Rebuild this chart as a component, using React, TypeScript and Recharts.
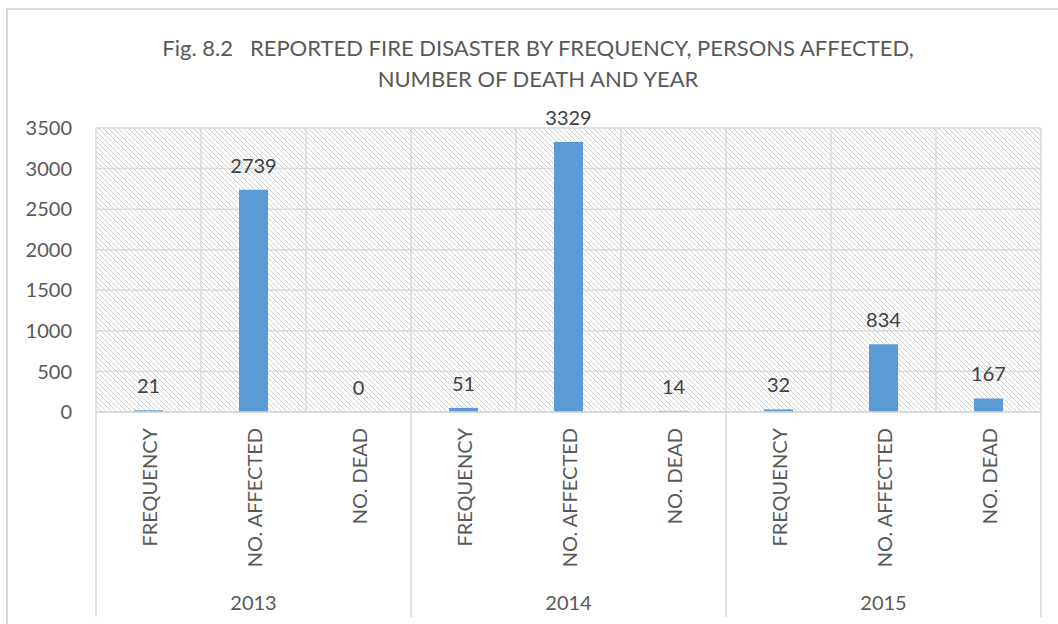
import React from "react";
import { BarChart, Bar, XAxis, YAxis, CartesianGrid, LabelList } from "recharts";

const years = ["2013", "2013", "2013", "2014", "2014", "2014", "2015", "2015", "2015"];
const categories = [
  "FREQUENCY", "NO. AFFECTED", "NO. DEAD",
  "FREQUENCY", "NO. AFFECTED", "NO. DEAD",
  "FREQUENCY", "NO. AFFECTED", "NO. DEAD",
];
const values = [21, 2739, 0, 51, 3329, 14, 32, 834, 167];
const yTicks = [0, 500, 1000, 1500, 2000, 2500, 3000, 3500];
const titleLines = [
  "Fig. 8.2   REPORTED FIRE DISASTER BY FREQUENCY, PERSONS AFFECTED,",
  "NUMBER OF DEATH AND YEAR",
];

const data = categories.map((c, i) => ({
  key: `${years[i]}-${i}`,
  cat: c,
  year: years[i],
  value: values[i],
  label: String(values[i]),
}));

const FONT = "Lato, 'Open Sans', sans-serif";
const GRID = "#d9d9d9";
const TEXT = "#595959";

const CatTick = (props: any) => {
  const { x, y, payload, index, width, visibleTicksCount } = props;
  const half = payload && payload.offset ? payload.offset : width / (visibleTicksCount || 9) / 2;
  const label = categories[index];
  const isGroupStart = years[index] !== years[index - 1];
  const isLast = index === categories.length - 1;
  return (
    <g>
      <text
        x={x}
        y={y + 16}
        transform={`rotate(-90, ${x}, ${y + 16})`}
        textAnchor="end"
        dominantBaseline="central"
        fontFamily={FONT}
        fontSize={20}
        fill={TEXT}
      >
        {label}
      </text>
      {isGroupStart && <line x1={x - half} x2={x - half} y1={y} y2={y + 205} stroke={GRID} strokeWidth={1.5} />}
      {isLast && <line x1={x + half} x2={x + half} y1={y} y2={y + 205} stroke={GRID} strokeWidth={1.5} />}
    </g>
  );
};

const YearTick = (props: any) => {
  const { x, y, index } = props;
  const isMiddle = years[index] === years[index - 1] && years[index] === years[index + 1];
  if (!isMiddle) return <g />;
  return (
    <text x={x} y={y + 20} textAnchor="middle" dominantBaseline="central" fontFamily={FONT} fontSize={20} fill={TEXT}>
      {years[index]}
    </text>
  );
};

const ValueLabel = (props: any) => {
  const { x, y, width, height, value } = props;
  const top = Math.min(Number(y), Number(y) + Number(height || 0));
  return (
    <text x={Number(x) + Number(width) / 2} y={top - 25} textAnchor="middle" dominantBaseline="central" fontFamily={FONT} fontSize={20} fill="#404040">
      {String(value)}
    </text>
  );
};

export default function App() {
  return (
    <div style={{ position: "absolute", left: 0, top: 0, width: 1058, height: 624, background: "#fff", overflow: "hidden" }}>
      <div
        style={{
          position: "absolute",
          left: 6,
          top: 8,
          width: 1100,
          height: 700,
          borderLeft: `2px solid ${GRID}`,
          borderTop: `2px solid ${GRID}`,
        }}
      />
      <svg width={1058} height={110} style={{ position: "absolute", left: 0, top: 0 }}>
        {titleLines.map((t, i) => (
          <text
            key={i}
            x={538}
            y={47 + i * 31}
            textAnchor="middle"
            dominantBaseline="central"
            fontFamily={FONT}
            fontSize={22}
            fill={TEXT}
            style={{ whiteSpace: "pre" }}
          >
            {t}
          </text>
        ))}
      </svg>
      <div style={{ position: "absolute", left: 0, top: 0 }}>
        <BarChart width={1058} height={624} data={data} margin={{ top: 128, right: 17, bottom: 0, left: 0 }}>
          <defs>
            <pattern id="hatch" width="5" height="5" patternUnits="userSpaceOnUse">
              <rect width="5" height="5" fill="#ffffff" />
              <path d="M0,0 L5,5 M-1,4 L1,6 M4,-1 L6,1" stroke="#d0d0d0" strokeWidth="1" />
            </pattern>
          </defs>
          <CartesianGrid
            fill="url(#hatch)"
            stroke={GRID}
            strokeWidth={1.5}
            verticalCoordinatesGenerator={({ offset }: any) =>
              Array.from({ length: categories.length + 1 }, (_, i) => offset.left + (i * offset.width) / categories.length)
            }
          />
          <XAxis
            dataKey="key"
            xAxisId="cat"
            height={170}
            interval={0}
            tickLine={false}
            tickSize={0}
            tickMargin={0}
            axisLine={{ stroke: GRID, strokeWidth: 1.5 }}
            tick={<CatTick />}
          />
          <XAxis
            dataKey="key"
            xAxisId="year"
            height={42}
            interval={0}
            tickLine={false}
            tickSize={0}
            tickMargin={0}
            axisLine={false}
            tick={<YearTick />}
          />
          <YAxis
            domain={[0, 3500]}
            ticks={yTicks}
            width={96}
            axisLine={false}
            tickLine={false}
            tickSize={0}
            tickMargin={24}
            tick={{ fontFamily: FONT, fontSize: 20, fill: TEXT }}
          />
          <Bar dataKey="value" xAxisId="cat" fill="#5B9BD5" barSize={29} minPointSize={0.01} isAnimationActive={false}>
            <LabelList dataKey="label" content={<ValueLabel />} />
          </Bar>
        </BarChart>
      </div>
    </div>
  );
}
